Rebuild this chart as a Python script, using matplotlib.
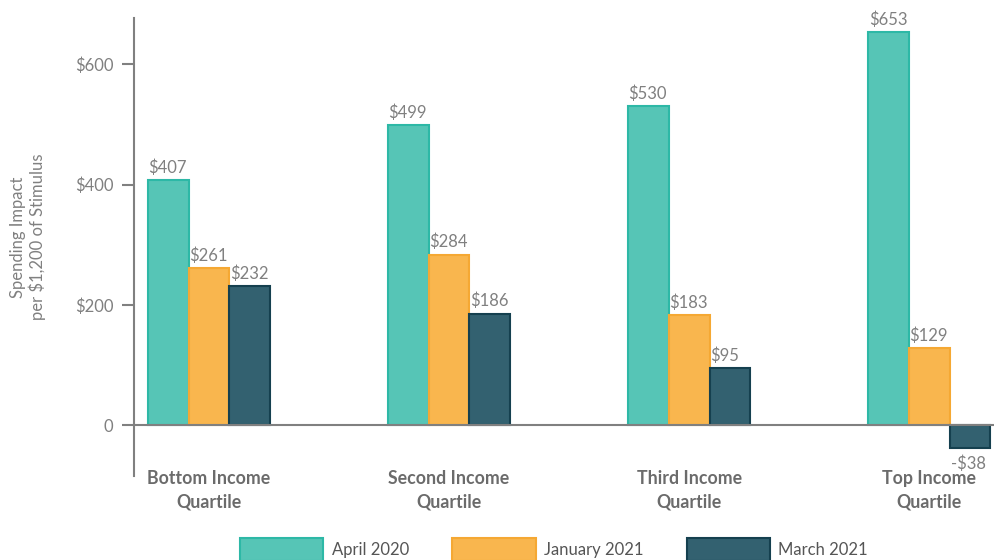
import matplotlib
matplotlib.use("Agg")
import matplotlib.pyplot as plt
import numpy as np

plt.rcParams['font.family'] = ['Lato', 'DejaVu Sans']

categories = ["Bottom Income\nQuartile", "Second Income\nQuartile",
              "Third Income\nQuartile", "Top Income\nQuartile"]
series_names = ["April 2020", "January 2021", "March 2021"]
april_2020 = [407, 499, 530, 653]
january_2021 = [261, 284, 183, 129]
march_2021 = [232, 186, 95, -38]
yticks = [0, 200, 400, 600]
ytick_labels = ["0", "$200", "$400", "$600"]

face_colors = ["#56C5B6", "#F9B64E", "#336170"]
edge_colors = ["#2DB8A6", "#F5A833", "#15404F"]
gray = "#808080"

fig = plt.figure(figsize=(9.94, 5.6), dpi=100)
ax = fig.add_axes([134 / 994, 1 - 476 / 560, 1 - 134 / 994, (476 - 18) / 560])

x = np.arange(len(categories))
width = 0.17
offsets = [-width, 0, width]
all_series = [april_2020, january_2021, march_2021]

handles = []
for vals, off, fc, ec, name in zip(all_series, offsets, face_colors, edge_colors, series_names):
    bars = ax.bar(x + off, vals, width, color=fc, edgecolor=ec, linewidth=1.5,
                  label=name, zorder=2)
    handles.append(bars)
    for xi, v in zip(x + off, vals):
        left = xi - width / 2
        label = f"${v}" if v >= 0 else f"-${abs(v)}"
        if v >= 0:
            ax.annotate(label, (left, v), xytext=(0.5, 3), textcoords="offset points",
                        ha="left", va="bottom", fontsize=12, color=gray)
        else:
            ax.annotate(label, (left, v), xytext=(1, -5), textcoords="offset points",
                        ha="left", va="top", fontsize=12, color=gray)

ax.axhline(0, color=gray, linewidth=1.5, zorder=3)

ax.set_xlim(-0.3125, 3.27)
ax.set_ylim(-84, 677)
ax.set_yticks(yticks)
ax.set_yticklabels(ytick_labels)
ax.tick_params(axis="y", colors=gray, labelcolor=gray, labelsize=12,
               length=9, width=1.5, pad=6)
ax.set_xticks([])

for side in ["top", "right", "bottom"]:
    ax.spines[side].set_visible(False)
ax.spines["left"].set_color(gray)
ax.spines["left"].set_linewidth(1.5)

for xi, cat in zip(x, categories):
    ax.text(xi, -74, cat, ha="center", va="top", fontsize=12.8,
            fontweight="bold", color="#6b6b6b", linespacing=1.45)

fig.text(28 / 994, 1 - 237 / 560, "Spending Impact\nper $1,200 of Stimulus",
         rotation=90, ha="center", va="center", fontsize=12, color=gray,
         linespacing=1.15)

fig.legend(handles=handles, labels=series_names, loc="upper center",
           bbox_to_anchor=(554 / 994, 1 - 538 / 560), ncol=3, frameon=False,
           handlelength=5.0, handleheight=1.7, handletextpad=0.5,
           columnspacing=2.6, fontsize=12, labelcolor="#555555",
           borderaxespad=0, borderpad=0)

fig.savefig("out.png", dpi=100)
